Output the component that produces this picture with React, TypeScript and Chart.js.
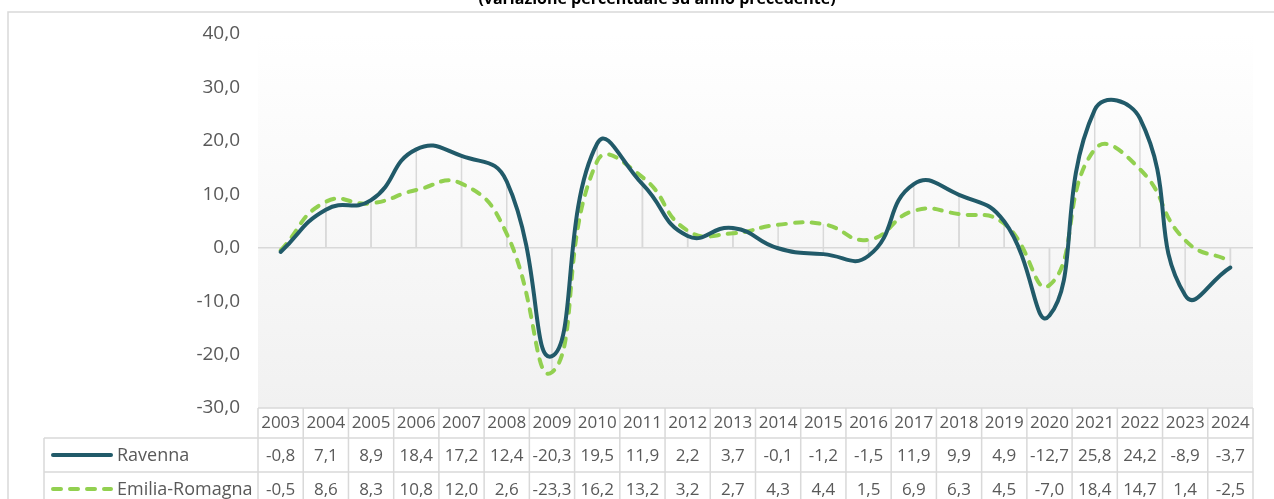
import { useEffect, useRef } from 'react';
import { Chart, registerables } from 'chart.js';

Chart.register(...registerables);

const years = ['2003', '2004', '2005', '2006', '2007', '2008', '2009', '2010', '2011', '2012', '2013', '2014', '2015', '2016', '2017', '2018', '2019', '2020', '2021', '2022', '2023', '2024'];
const ravenna = [-0.8, 7.1, 8.9, 18.4, 17.2, 12.4, -20.3, 19.5, 11.9, 2.2, 3.7, -0.1, -1.2, -1.5, 11.9, 9.9, 4.9, -12.7, 25.8, 24.2, -8.9, -3.7];
const emiliaRomagna = [-0.5, 8.6, 8.3, 10.8, 12.0, 2.6, -23.3, 16.2, 13.2, 3.2, 2.7, 4.3, 4.4, 1.5, 6.9, 6.3, 4.5, -7.0, 18.4, 14.7, 1.4, -2.5];
const seriesNames = ['Ravenna', 'Emilia-Romagna'];
const yMin = -30;
const yMax = 40;
const yStep = 10;
const titleText = '(variazione percentuale su anno precedente)';

const FONT = '"Open Sans", "Noto Sans", sans-serif';
const TEAL = '#215a69';
const GREEN = '#92d050';
const GRID = '#d9d9d9';
const TEXT = '#595959';

const fmt = (v: number) => v.toFixed(1).replace('.', ',');

const backgroundPlugin = {
  id: 'bgPlugin',
  beforeDraw(chart: any) {
    const { ctx, chartArea } = chart;
    ctx.save();
    ctx.fillStyle = '#ffffff';
    ctx.fillRect(0, 0, chart.width, chart.height);
    ctx.strokeStyle = GRID;
    ctx.lineWidth = 1.5;
    ctx.strokeRect(8, 12, chart.width + 20, chart.height + 20);
    const g = ctx.createLinearGradient(0, chartArea.top, 0, chartArea.bottom);
    g.addColorStop(0, '#ffffff');
    g.addColorStop(1, '#f1f1f1');
    ctx.fillStyle = g;
    ctx.fillRect(chartArea.left, chartArea.top, chartArea.right - chartArea.left, chartArea.bottom - chartArea.top);
    ctx.restore();
  },
};

const dropLinesPlugin = {
  id: 'dropLines',
  beforeDatasetsDraw(chart: any) {
    const { ctx, chartArea } = chart;
    const yScale = chart.scales.y;
    const y0 = yScale.getPixelForValue(0);
    ctx.save();
    ctx.strokeStyle = GRID;
    ctx.lineWidth = 1.5;
    chart.data.datasets.forEach((_ds: any, di: number) => {
      const meta = chart.getDatasetMeta(di);
      meta.data.forEach((pt: any) => {
        ctx.beginPath();
        ctx.moveTo(pt.x, y0);
        ctx.lineTo(pt.x, pt.y);
        ctx.stroke();
      });
    });
    ctx.beginPath();
    ctx.moveTo(chartArea.left, y0);
    ctx.lineTo(chartArea.right, y0);
    ctx.stroke();
    ctx.restore();
  },
};

const tablePlugin = {
  id: 'dataTable',
  afterDraw(chart: any) {
    const { ctx, chartArea } = chart;
    const xScale = chart.scales.x;
    const n = chart.data.labels.length;
    const headerTop = chartArea.bottom;
    const headerBottom = xScale.bottom;
    const rowH = 34;
    const tableLeft = 44;
    const bottom = chart.height + 10;
    ctx.save();
    ctx.strokeStyle = GRID;
    ctx.lineWidth = 1.5;
    ctx.beginPath();
    ctx.moveTo(chartArea.left, headerTop);
    ctx.lineTo(chartArea.right, headerTop);
    for (let r = 0; r < 3; r++) {
      const y = headerBottom + r * rowH;
      ctx.moveTo(tableLeft, y);
      ctx.lineTo(chartArea.right, y);
    }
    ctx.moveTo(tableLeft, headerBottom);
    ctx.lineTo(tableLeft, bottom);
    const bounds: number[] = [chartArea.left];
    for (let i = 0; i < n - 1; i++) {
      bounds.push((xScale.getPixelForValue(i) + xScale.getPixelForValue(i + 1)) / 2);
    }
    bounds.push(chartArea.right);
    bounds.forEach((bx) => {
      ctx.moveTo(bx, headerTop);
      ctx.lineTo(bx, bottom);
    });
    ctx.stroke();

    chart.data.datasets.forEach((ds: any, di: number) => {
      const cy = headerBottom + di * rowH + rowH / 2;
      ctx.save();
      ctx.strokeStyle = ds.borderColor;
      ctx.lineWidth = 4;
      ctx.lineCap = 'round';
      ctx.setLineDash(ds.borderDash || []);
      ctx.beginPath();
      ctx.moveTo(53, cy);
      ctx.lineTo(111, cy);
      ctx.stroke();
      ctx.restore();
      ctx.fillStyle = TEXT;
      ctx.textBaseline = 'middle';
      ctx.textAlign = 'left';
      ctx.font = `18px ${FONT}`;
      ctx.fillText(ds.label, 117, cy + 1);
      ctx.font = `17px ${FONT}`;
      ctx.textAlign = 'center';
      ds.data.forEach((v: number, i: number) => {
        ctx.fillText(fmt(v), xScale.getPixelForValue(i), cy + 1);
      });
    });

    ctx.fillStyle = '#000000';
    ctx.font = `bold 16px ${FONT}`;
    ctx.textAlign = 'center';
    ctx.textBaseline = 'alphabetic';
    ctx.fillText(titleText, 657, 4);
    ctx.restore();
  },
};

export default function App() {
  const ref = useRef<HTMLCanvasElement | null>(null);
  useEffect(() => {
    document.body.style.margin = '0';
    if (!ref.current) return;
    const chart = new Chart(ref.current, {
      type: 'line',
      data: {
        labels: years,
        datasets: [
          {
            label: seriesNames[0],
            data: ravenna,
            borderColor: TEAL,
            backgroundColor: TEAL,
            borderWidth: 4,
            pointRadius: 0,
            tension: 0.5,
            fill: false,
            borderJoinStyle: 'round',
            borderCapStyle: 'round',
          },
          {
            label: seriesNames[1],
            data: emiliaRomagna,
            borderColor: GREEN,
            backgroundColor: GREEN,
            borderWidth: 4,
            pointRadius: 0,
            tension: 0.5,
            fill: false,
            borderDash: [8, 9],
            borderJoinStyle: 'round',
            borderCapStyle: 'round',
          },
        ],
      },
      options: {
        animation: false,
        responsive: false,
        devicePixelRatio: 1,
        layout: { padding: { left: 0, right: 21, top: 34, bottom: 61 } },
        plugins: {
          legend: { display: false },
          tooltip: { enabled: false },
          title: { display: false },
        },
        scales: {
          x: {
            type: 'category',
            offset: true,
            grid: { display: false, drawTicks: false },
            border: { display: false },
            afterFit: (s: any) => { s.height = 30; },
            ticks: {
              color: TEXT,
              font: { family: FONT, size: 17 },
              padding: 5,
              maxRotation: 0,
              minRotation: 0,
              autoSkip: false,
            },
          },
          y: {
            min: yMin,
            max: yMax,
            grid: { display: false, drawTicks: false },
            border: { display: false },
            afterFit: (s: any) => { s.width = 258; },
            ticks: {
              stepSize: yStep,
              color: TEXT,
              font: { family: FONT, size: 19 },
              padding: 18,
              callback: (v: any) => fmt(Number(v)),
            },
          },
        },
      },
      plugins: [backgroundPlugin, dropLinesPlugin, tablePlugin],
    });
    return () => chart.destroy();
  }, []);
  return <canvas ref={ref} width={1274} height={499} style={{ display: 'block' }} />;
}
